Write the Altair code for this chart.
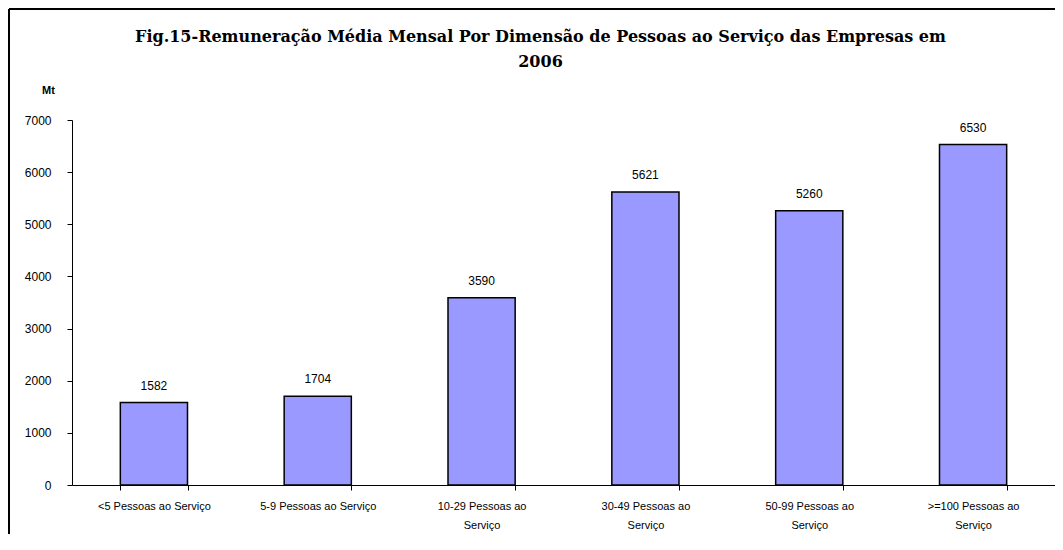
import altair as alt
import pandas as pd

categories = [
    "<5  Pessoas ao Serviço",
    "5-9 Pessoas ao Serviço",
    "10-29 Pessoas ao Serviço",
    "30-49 Pessoas ao Serviço",
    "50-99 Pessoas ao Serviço",
    ">=100 Pessoas ao Serviço",
]
values = [1582, 1704, 3590, 5621, 5260, 6530]
y_ticks = [0, 1000, 2000, 3000, 4000, 5000, 6000, 7000]

df = pd.DataFrame({"cat": categories, "val": values})

FONT = "Liberation Sans"
W, H = 983, 365

x_enc = alt.X(
    "cat:N",
    sort=categories,
    title=None,
    scale=alt.Scale(paddingInner=0.59, paddingOuter=0.295),
    axis=alt.Axis(
        labelAngle=0,
        tickBand="extent",
        labelExpr="length(datum.label) > 22 ? [replace(datum.label, ' Serviço', ''), 'Serviço'] : datum.label",
        labelFont=FONT,
        labelFontSize=11,
        labelColor="black",
        labelLineHeight=19,
        labelPadding=10,
        tickColor="black",
        tickSize=5,
        domainColor="black",
        labelOverlap=False,
        grid=False,
    ),
)

y_enc = alt.Y(
    "val:Q",
    scale=alt.Scale(domain=[0, 7000], nice=False),
    axis=alt.Axis(
        values=y_ticks,
        format="d",
        grid=False,
        title="Mt",
        titleAngle=0,
        titleX=-24,
        titleY=-27,
        titleAlign="center",
        titleBaseline="alphabetic",
        titleFont=FONT,
        titleFontSize=11,
        titleFontWeight="bold",
        titleColor="black",
        labelFont=FONT,
        labelFontSize=12,
        labelColor="black",
        labelPadding=16,
        tickColor="black",
        tickSize=5,
        domainColor="black",
    ),
)

bars = alt.Chart(df).mark_bar(
    color="#9999FF", stroke="black", strokeWidth=1.5
).encode(x=x_enc, y=y_enc)

text = alt.Chart(df).mark_text(
    dy=-17, font=FONT, fontSize=12, color="black"
).encode(x=alt.X("cat:N", sort=categories), y=alt.Y("val:Q"), text="val:Q")

top_line = alt.Chart(df).mark_rule(color="black", strokeWidth=1.5).encode(
    x=alt.value(-63), x2=alt.value(W), y=alt.value(-111)
)
left_line = alt.Chart(df).mark_rule(color="black", strokeWidth=1.5).encode(
    x=alt.value(-63), y=alt.value(-111), y2=alt.value(H + 49)
)

chart = alt.layer(top_line, left_line, bars, text).properties(
    width=W,
    height=H,
    background="white",
    padding={"left": 64, "top": 112, "right": 0, "bottom": 49},
    autosize=alt.AutoSizeParams(type="none"),
    title=alt.TitleParams(
        text=[
            "Fig.15-Remuneração Média Mensal Por Dimensão de Pessoas ao Serviço das Empresas em",
            "2006",
        ],
        font="DejaVu Serif",
        fontSize=16,
        fontWeight="bold",
        color="black",
        anchor="middle",
        dx=-23,
        dy=62,
        lineHeight=25,
        offset=0,
    ),
).configure_view(stroke=None, strokeWidth=0)

chart.save("out.html", embed_options={"renderer": "svg", "actions": False})
